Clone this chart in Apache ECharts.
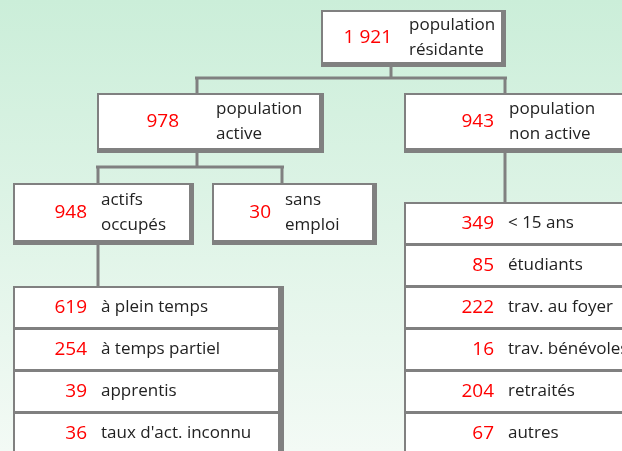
<!DOCTYPE html>
<html><head><meta charset="utf-8">
<script src="https://cdn.jsdelivr.net/npm/echarts@6/dist/echarts.min.js"></script>
<style>html,body{margin:0;padding:0;background:#fff}#c{width:622px;height:451px}</style>
</head><body><div id="c"></div>
<script>
// ---- data ----
const nodeValues = ['1 921', '978', '943', '948', '30'];
const nodeLabels = [['population', 'résidante'], ['population', 'active'], ['population', 'non active'], ['actifs', 'occupés'], ['sans', 'emploi']];
const activeCats = ['à plein temps', 'à temps partiel', 'apprentis', "taux d'act. inconnu"];
const activeValues = [619, 254, 39, 36];
const inactiveCats = ['< 15 ans', 'étudiants', 'trav. au foyer', 'trav. bénévoles', 'retraités', 'autres'];
const inactiveValues = [349, 85, 222, 16, 204, 67];

// ---- layout ----
const GRAY = '#808080', RED = '#ff0000', INK = '#222222';
const FONT = '17px "Open Sans", sans-serif';
const NUMFONT = '19px "Open Sans", sans-serif';
const nodeBoxes = [
  {x0: 321, y0: 10, x1: 506, y1: 67, numR: 392, labX: 409, cy: 38},
  {x0: 97, y0: 93, x1: 324, y1: 153, numR: 179, labX: 216, cy: 122},
  {x0: 404, y0: 93, x1: 640, y1: 153, numR: 494, labX: 509, cy: 122},
  {x0: 13, y0: 183, x1: 194, y1: 245, numR: 87, labX: 101, cy: 213},
  {x0: 212, y0: 183, x1: 377, y1: 245, numR: 271, labX: 285, cy: 213}
];
const lists = [
  {x0: 13, x1: 284, top: 286, rowH: 42, numR: 87, labX: 101, cats: activeCats, vals: activeValues},
  {x0: 404, x1: 640, top: 202, rowH: 42, numR: 494, labX: 508, cats: inactiveCats, vals: inactiveValues}
];
const connectors = [
  [[391, 66], [391, 79]], [[195, 78], [507, 78]], [[197, 78], [197, 94]], [[505, 78], [505, 94]],
  [[197, 152], [197, 168]], [[96, 167], [284, 167]], [[98, 167], [98, 184]], [[282, 167], [282, 184]],
  [[98, 244], [98, 287]], [[505, 152], [505, 203]]
];

const els = [];
els.push({type: 'rect', shape: {x: 0, y: 0, width: 622, height: 451}, style: {fill: new echarts.graphic.LinearGradient(0, 0, 0, 1, [{offset: 0, color: '#cbeed9'}, {offset: 1, color: '#f3faf5'}])}, z: 0});
connectors.forEach(c => els.push({type: 'line', shape: {x1: c[0][0], y1: c[0][1], x2: c[1][0], y2: c[1][1]}, style: {stroke: GRAY, lineWidth: 3}, z: 1}));

function box(x0, y0, x1, y1) {
  els.push({type: 'rect', shape: {x: x0, y: y0, width: x1 - x0, height: y1 - y0}, style: {fill: GRAY}, z: 2});
  els.push({type: 'rect', shape: {x: x0 + 2, y: y0 + 2, width: x1 - x0 - 7, height: y1 - y0 - 7}, style: {fill: '#ffffff'}, z: 3});
}
function txt(s, x, y, color, align, font) {
  els.push({type: 'text', z: 5, style: {text: s, x: x, y: y, fill: color, font: font || FONT, textAlign: align, align: align, textVerticalAlign: 'middle', verticalAlign: 'middle'}});
}

nodeBoxes.forEach((b, i) => {
  box(b.x0, b.y0, b.x1, b.y1);
  txt(String(nodeValues[i]), b.numR, b.cy, RED, 'right', NUMFONT);
  txt(nodeLabels[i][0], b.labX, b.cy - 12.5, INK, 'left');
  txt(nodeLabels[i][1], b.labX, b.cy + 12.5, INK, 'left');
});

lists.forEach(L => {
  const n = L.cats.length;
  const bottom = L.top + L.rowH * n + 10;
  els.push({type: 'rect', shape: {x: L.x0, y: L.top, width: L.x1 - L.x0, height: bottom - L.top}, style: {fill: GRAY}, z: 2});
  for (let i = 0; i < n; i++) {
    const ry = L.top + i * L.rowH;
    const h = (i === n - 1) ? L.rowH + 20 : L.rowH;
    els.push({type: 'rect', shape: {x: L.x0 + 2, y: ry + 2, width: L.x1 - L.x0 - 8, height: h - 3}, style: {fill: '#ffffff'}, z: 3});
    const cy = ry + L.rowH / 2 + 0.5;
    txt(String(L.vals[i]), L.numR, cy, RED, 'right', NUMFONT);
    txt(L.cats[i], L.labX, cy, INK, 'left');
  }
});

const chart = echarts.init(document.getElementById('c'), null, {renderer: 'canvas'});
chart.setOption({animation: false, graphic: {elements: els}});
</script></body></html>
